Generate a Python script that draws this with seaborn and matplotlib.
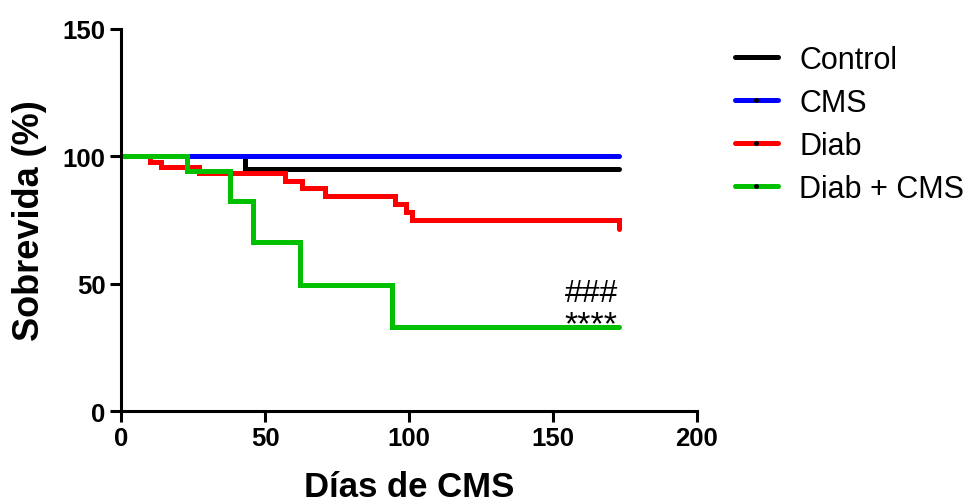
import pandas as pd
import seaborn as sns
import matplotlib.pyplot as plt
from matplotlib.lines import Line2D

# Survival curves (days, % survival)
groups = ['Control', 'CMS', 'Diab', 'Diab + CMS']
colors = ['#000000', '#0000FF', '#FF0000', '#00C000']

control_days = [0, 43, 173]
control_surv = [100, 95, 95]
cms_days = [0, 173]
cms_surv = [100, 100]
diab_days = [0, 10, 14, 27, 57, 63, 71, 95, 99, 101, 173]
diab_surv = [100, 97.8, 95.8, 93.5, 90.4, 87.4, 84.3, 81.3, 78.2, 75.0, 71.5]
dcms_days = [0, 23, 38, 46, 62, 94, 173]
dcms_surv = [100, 94.1, 82.3, 66.2, 49.5, 33.1, 33.1]

x_ticks = [0, 50, 100, 150, 200]
y_ticks = [0, 50, 100, 150]


def build_df():
    # long format table for seaborn
    rows = []
    for name, d, s in zip(groups,
                          [control_days, cms_days, diab_days, dcms_days],
                          [control_surv, cms_surv, diab_surv, dcms_surv]):
        for a, b in zip(d, s):
            rows.append({'Group': name, 'Day': a, 'Survival': b})
    return pd.DataFrame(rows)


sns.set_style('ticks')
plt.rcParams['font.family'] = ['Liberation Sans', 'DejaVu Sans']
plt.rcParams['text.color'] = 'black'
plt.rcParams['axes.labelcolor'] = 'black'
plt.rcParams['xtick.color'] = 'black'
plt.rcParams['ytick.color'] = 'black'

df = build_df()

fig = plt.figure(figsize=(9.73, 5.02), dpi=100)
ax = fig.add_axes([121 / 973, 1 - 412 / 502, 576 / 973, 382 / 502])

for name, c in zip(groups, colors):
    sns.lineplot(data=df[df['Group'] == name], x='Day', y='Survival',
                 color=c, lw=3.6, drawstyle='steps-post', ax=ax,
                 legend=False, estimator=None, sort=False,
                 solid_capstyle='round', solid_joinstyle='miter')

ax.set_xlim(0, 200)
ax.set_ylim(0, 150)
ax.set_xticks(x_ticks)
ax.set_yticks(y_ticks)
ax.tick_params(axis='both', direction='out', length=8, width=2.2,
               labelsize=18.5, pad=3, color='black', labelcolor='black')
for lab in ax.get_xticklabels() + ax.get_yticklabels():
    lab.set_fontweight('bold')
for sp in ['left', 'bottom']:
    ax.spines[sp].set_linewidth(2.2)
    ax.spines[sp].set_color('black')
sns.despine(ax=ax)

ax.set_xlabel('Días de CMS', fontsize=25, fontweight='bold', labelpad=14)
ax.set_ylabel('Sobrevida (%)', fontsize=26, fontweight='bold', labelpad=11)

ax.text(172.5, 43.2, '###', fontsize=23, ha='right', va='baseline')
ax.text(172.5, 30.6, '****', fontsize=24.5, ha='right', va='baseline')

handles = []
for i, c in enumerate(colors):
    if i == 0:
        handles.append(Line2D([], [], color=c, lw=3.6))
    else:
        handles.append(Line2D([], [], color=c, lw=3.6, marker='o',
                              markersize=2.5, markerfacecolor='black',
                              markeredgecolor='black'))
fig.legend(handles, groups, loc='upper left',
           bbox_to_anchor=(735 / 973, 1 - 46 / 502),
           bbox_transform=fig.transFigure, frameon=False, fontsize=22,
           handlelength=1.4, handletextpad=0.7, labelspacing=0.42,
           borderpad=0, borderaxespad=0, numpoints=1)

fig.savefig('out.png', dpi=100)
